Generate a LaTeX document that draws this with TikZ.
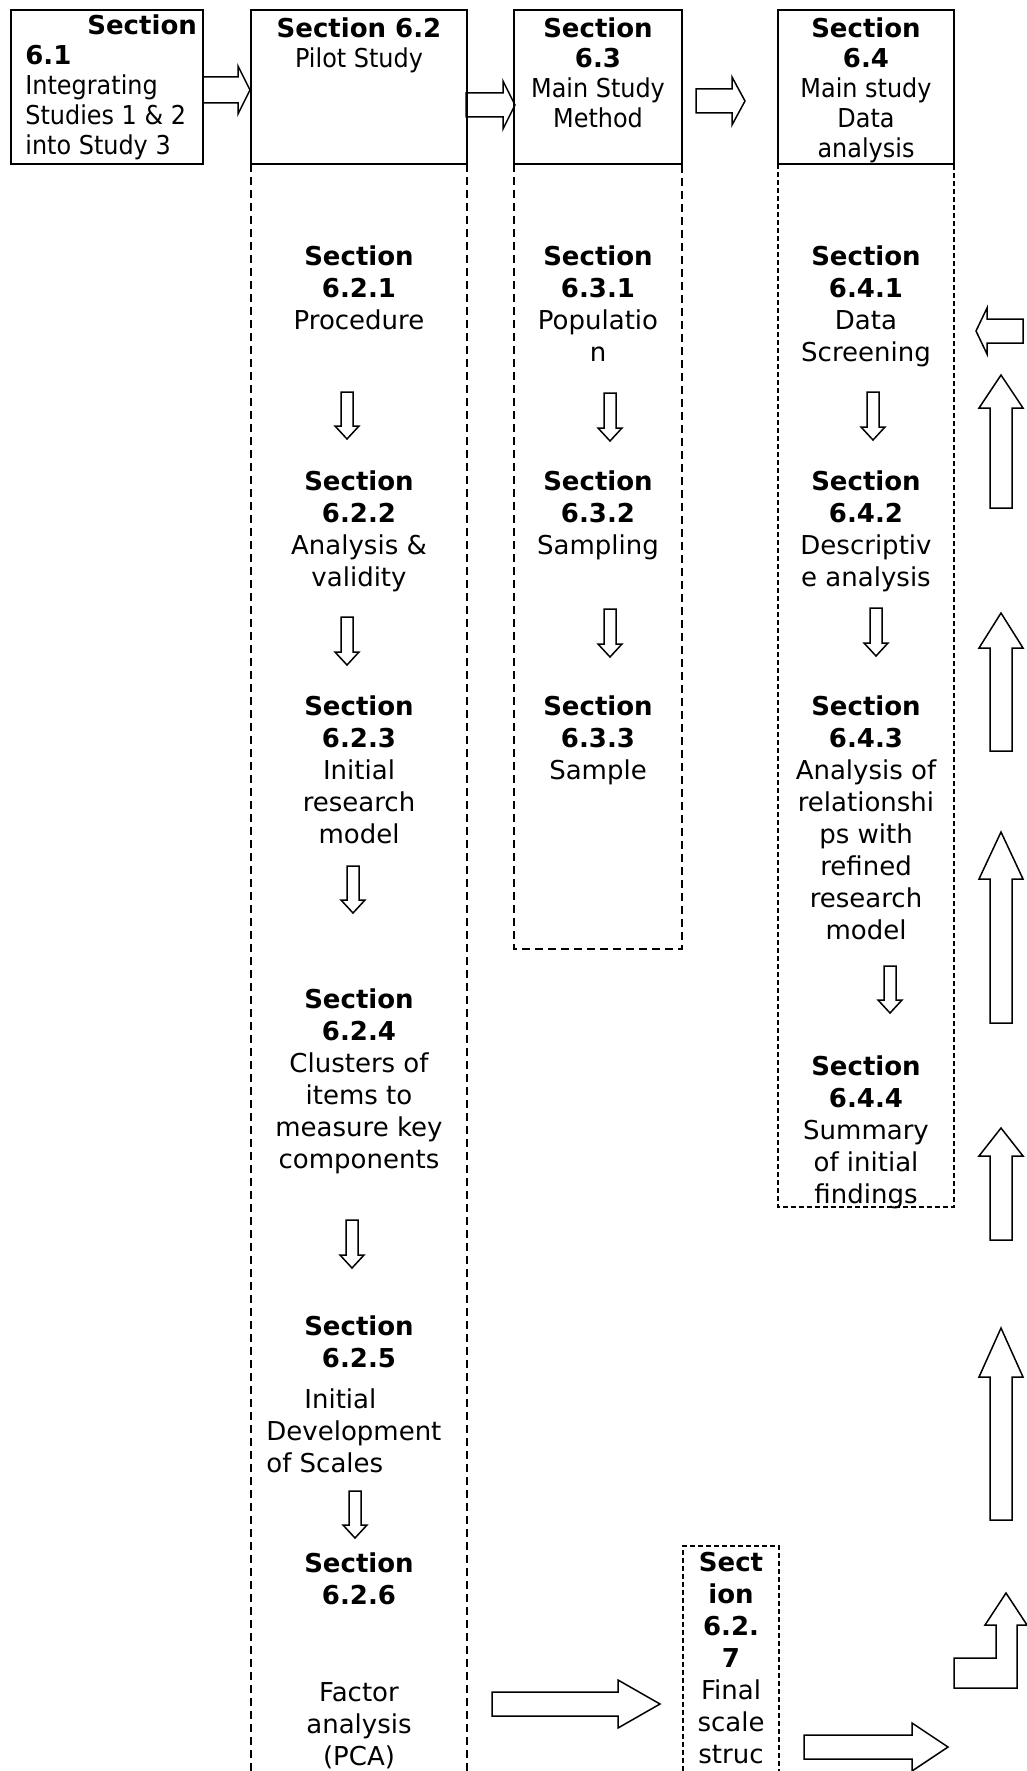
\documentclass[tikz,border=0pt]{standalone}
\usepackage{fontspec}
\setmainfont{DejaVu Sans}
\newfontfamily\hdfont{DejaVu Sans}[UprightFeatures={FakeStretch=0.92}]
\usetikzlibrary{positioning}

% block arrows: tail, tip, centre, shaft half width, head half width, head length
\newcommand{\blockR}[6]{\draw[blk] ({#1},{#3-#4}) -- ({#2-#6},{#3-#4}) -- ({#2-#6},{#3-#5}) -- ({#2},{#3}) -- ({#2-#6},{#3+#5}) -- ({#2-#6},{#3+#4}) -- ({#1},{#3+#4}) -- cycle;}
\newcommand{\blockL}[6]{\draw[blk] ({#1},{#3-#4}) -- ({#2+#6},{#3-#4}) -- ({#2+#6},{#3-#5}) -- ({#2},{#3}) -- ({#2+#6},{#3+#5}) -- ({#2+#6},{#3+#4}) -- ({#1},{#3+#4}) -- cycle;}
\newcommand{\blockU}[6]{\draw[blk] ({#1-#4},{#2}) -- ({#1-#4},{#3+#6}) -- ({#1-#5},{#3+#6}) -- ({#1},{#3}) -- ({#1+#5},{#3+#6}) -- ({#1+#4},{#3+#6}) -- ({#1+#4},{#2}) -- cycle;}
\newcommand{\blockD}[6]{\draw[blk] ({#1-#4},{#2}) -- ({#1-#4},{#3-#6}) -- ({#1-#5},{#3-#6}) -- ({#1},{#3}) -- ({#1+#5},{#3-#6}) -- ({#1+#4},{#3-#6}) -- ({#1+#4},{#2}) -- cycle;}

\begin{document}
\begin{tikzpicture}[x=0.5pt,y=-0.5pt]
\tikzset{
  hbox/.style={draw,line width=1pt,inner sep=0pt,minimum height=77pt},
  htext/.style={inner sep=0pt,align=center,anchor=north,font=\hdfont\fontsize{13pt}{15pt}\selectfont},
  ctext/.style={inner sep=0pt,align=center,anchor=north,font=\fontsize{13pt}{16pt}\selectfont},
  col/.style={line width=0.8pt,dash pattern=on 4pt off 2.5pt},
  dotcol/.style={line width=0.8pt,dash pattern=on 2.5pt off 1.5pt},
  blk/.style={draw,line width=0.75pt}
}
\useasboundingbox (0,0) rectangle (1027,1771);

% header boxes
\node[hbox,minimum width=96pt] (h61) at (107,87) {};
\node[hbox,minimum width=108pt] (h62) at (359,87) {};
\node[hbox,minimum width=84pt] (h63) at (598,87) {};
\node[hbox,minimum width=88pt] (h64) at (866,87) {};

\node[htext,align=left,anchor=north west] (t61) at (25,14) {\hspace*{31pt}\textbf{Section}\\\textbf{6.1}\\Integrating\\Studies 1 \& 2\\into Study 3};
\node[htext] (t62) at (359,17) {\textbf{Section 6.2}\\Pilot Study};
\node[htext] (t63) at (598,17) {\textbf{Section}\\\textbf{6.3}\\Main Study\\Method};
\node[htext] (t64) at (866,17) {\textbf{Section}\\\textbf{6.4}\\Main study\\Data\\analysis};

% dashed columns
\draw[col] (251,164) -- (251,1771);
\draw[col,line width=0.6pt] (467,164) -- (467,1771);
\draw[col,line width=0.6pt] (514,164) -- (514,949) -- (682,949) -- (682,164);
\draw[dotcol] (778,164) -- (778,1207) -- (954,1207) -- (954,164);
\draw[dotcol] (683,1771) -- (683,1546) -- (779,1546) -- (779,1771);

% column 6.2
\node[ctext] (s621) at (359,245) {\textbf{Section}\\\textbf{6.2.1}\\Procedure};
\node[ctext] (s622) at (359,470) {\textbf{Section}\\\textbf{6.2.2}\\Analysis \&\\validity};
\node[ctext] (s623) at (359,695) {\textbf{Section}\\\textbf{6.2.3}\\Initial\\research\\model};
\node[ctext] (s624) at (359,988) {\textbf{Section}\\\textbf{6.2.4}\\Clusters of\\items to\\measure key\\components};
\node[ctext] (s625) at (359,1315) {\textbf{Section}\\\textbf{6.2.5}};
\node[ctext,align=left,anchor=north west] (d625) at (266,1388) {\hspace*{19pt}Initial\\Development\\of Scales};
\node[ctext] (s626) at (359,1552) {\textbf{Section}\\\textbf{6.2.6}};
\node[ctext] (d626) at (359,1682) {Factor\\analysis\\(PCA)};

% column 6.3
\node[ctext] (s631) at (598,245) {\textbf{Section}\\\textbf{6.3.1}\\Populatio\\n};
\node[ctext] (s632) at (598,470) {\textbf{Section}\\\textbf{6.3.2}\\Sampling};
\node[ctext] (s633) at (598,695) {\textbf{Section}\\\textbf{6.3.3}\\Sample};

% column 6.4
\node[ctext] (s641) at (866,245) {\textbf{Section}\\\textbf{6.4.1}\\Data\\Screening};
\node[ctext] (s642) at (866,470) {\textbf{Section}\\\textbf{6.4.2}\\Descriptiv\\e analysis};
\node[ctext] (s643) at (866,695) {\textbf{Section}\\\textbf{6.4.3}\\Analysis of\\relationshi\\ps with\\refined\\research\\model};
\node[ctext] (s644) at (866,1055) {\textbf{Section}\\\textbf{6.4.4}\\Summary\\of initial\\findings};

\node[ctext] (s627) at (731,1552) {\textbf{Sect}\\\textbf{ion}\\\textbf{6.2.}\\\textbf{7}\\Final\\scale\\struc};

% arrows between headers
\blockR{203}{250}{90}{13}{24}{12}
\blockR{466}{515}{105}{12}{24}{12}
\blockR{696}{745}{101}{12}{24}{13}

% arrows down the columns
\foreach \x/\a/\b in {347/392/439, 347/617/665, 353/866/913, 352/1220/1268, 355/1491/1538,
                      610/393/441, 610/609/657,
                      873/392/440, 876/608/656, 890/966/1013}
  {\blockD{\x}{\a}{\b}{6}{12}{13}}

% bottom arrows
\blockR{492}{660}{1704}{12}{24}{42}
\blockR{804}{948}{1747}{12}{24}{36}

% return path on the right
\blockL{1023}{976}{331}{12}{23}{11}
\blockU{1001}{508}{375}{11}{22}{33}
\blockU{1001}{751}{613}{11}{22}{35}
\blockU{1001}{1023}{832}{11}{22}{47}
\blockU{1001}{1240}{1128}{11}{22}{28}
\blockU{1001}{1520}{1328}{11}{22}{49}
\draw[blk] (1006,1593) -- (1027,1625) -- (1017,1625) -- (1017,1688) -- (954,1688) -- (954,1658) -- (996,1658) -- (996,1625) -- (985,1625) -- cycle;
\end{tikzpicture}
\end{document}
